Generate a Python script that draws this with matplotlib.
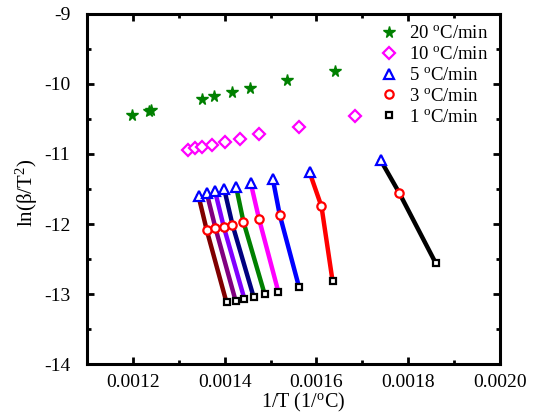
import numpy as np
import matplotlib
matplotlib.use("Agg")
import matplotlib.pyplot as plt
from matplotlib.ticker import MultipleLocator, FormatStrFormatter

plt.rcParams['font.family'] = ['Liberation Serif', 'DejaVu Serif']
plt.rcParams['mathtext.fontset'] = 'custom'
plt.rcParams['mathtext.rm'] = 'Liberation Serif'
plt.rcParams['mathtext.it'] = 'Liberation Serif:italic'

# 1/T values and ln(beta/T^2) for each heating rate
x20 = [0.001198, 0.001236, 0.00124, 0.00135, 0.001377, 0.001415, 0.001455, 0.001536, 0.00164]
y20 = [-10.45, -10.39, -10.37, -10.21, -10.17, -10.11, -10.06, -9.95, -9.82]

x10 = [0.001321, 0.001336, 0.001351, 0.001373, 0.001401, 0.001434, 0.001475, 0.001561, 0.001684]
y10 = [-10.94, -10.92, -10.90, -10.87, -10.83, -10.78, -10.72, -10.61, -10.46]

x5 = [0.001343, 0.001361, 0.001379, 0.001399, 0.001425, 0.001457, 0.001505, 0.001585, 0.00174]
y5 = [-11.60, -11.56, -11.53, -11.50, -11.47, -11.42, -11.36, -11.26, -11.09]

x3 = [0.001361, 0.001380, 0.001398, 0.001417, 0.001441, 0.001475, 0.001520, 0.001611, 0.001780]
y3 = [-12.09, -12.06, -12.04, -12.01, -11.97, -11.93, -11.87, -11.75, -11.55]

x1 = [0.001404, 0.001424, 0.001443, 0.001463, 0.001487, 0.001517, 0.001562, 0.001635, 0.00186]
y1 = [-13.12, -13.10, -13.07, -13.04, -13.00, -12.97, -12.90, -12.81, -12.56]

line_colors = ['#800000', '#800080', '#8000ff', '#000080', '#008000',
               '#ff00ff', '#0000ff', '#ff0000', '#000000']

fig = plt.figure(figsize=(5.33, 4.15), dpi=100)
ax = fig.add_axes([87/533, 1-364/415, 413/533, 350/415])

# fit lines through 5, 3, 1 C/min points at equal conversion
for i in range(len(line_colors)):
    ax.plot([x5[i], x3[i], x1[i]], [y5[i], y3[i], y1[i]], color=line_colors[i], lw=3.2, zorder=2)

ax.plot(x20, y20, ls='none', marker='*', ms=8.5, color='green', mec='green', label='20 $^{\\mathrm{o}}$C/min', zorder=3)
ax.plot(x10, y10, ls='none', marker='D', ms=6, mfc='white', mec='magenta', mew=1.6, label='10 $^{\\mathrm{o}}$C/min', zorder=3)
ax.plot(x5, y5, ls='none', marker='^', ms=7.5, mfc='white', mec='blue', mew=1.6, label='5 $^{\\mathrm{o}}$C/min', zorder=3)
ax.plot(x3, y3, ls='none', marker='o', ms=6, mfc='white', mec='red', mew=1.6, label='3 $^{\\mathrm{o}}$C/min', zorder=3)
ax.plot(x1, y1, ls='none', marker='s', ms=5, mfc='white', mec='black', mew=1.6, label='1 $^{\\mathrm{o}}$C/min', zorder=3)

ax.set_xlim(0.0011, 0.0020)
ax.set_ylim(-14, -9)
ax.xaxis.set_major_locator(MultipleLocator(0.0002))
ax.xaxis.set_minor_locator(MultipleLocator(0.0001))
ax.yaxis.set_major_locator(MultipleLocator(1))
ax.yaxis.set_minor_locator(MultipleLocator(0.5))
ax.xaxis.set_major_formatter(FormatStrFormatter('%.4f'))
ax.yaxis.set_major_formatter(FormatStrFormatter('%d'))

ax.tick_params(which='both', direction='in', top=True, right=True, labelsize=14)
ax.tick_params(axis='x', pad=7)
ax.tick_params(axis='y', pad=12)
ax.tick_params(which='major', length=5, width=2)
ax.tick_params(which='minor', length=3, width=2)
for s in ax.spines.values():
    s.set_linewidth(2.2)

ax.set_xlabel('1/T (1/$^{\\mathrm{o}}$C)', fontsize=14.5)
ax.set_ylabel('ln(\u03b2/T$^{2}$)', fontsize=15)
ax.xaxis.set_label_coords(0.524, -0.076)
ax.yaxis.set_label_coords(-0.115, 0.49)

ax.legend(loc='upper right', frameon=False, fontsize=13.5, handletextpad=0.5,
          labelspacing=0.2, borderaxespad=0.2, handlelength=1.2)

fig.savefig('out.png', dpi=100)
